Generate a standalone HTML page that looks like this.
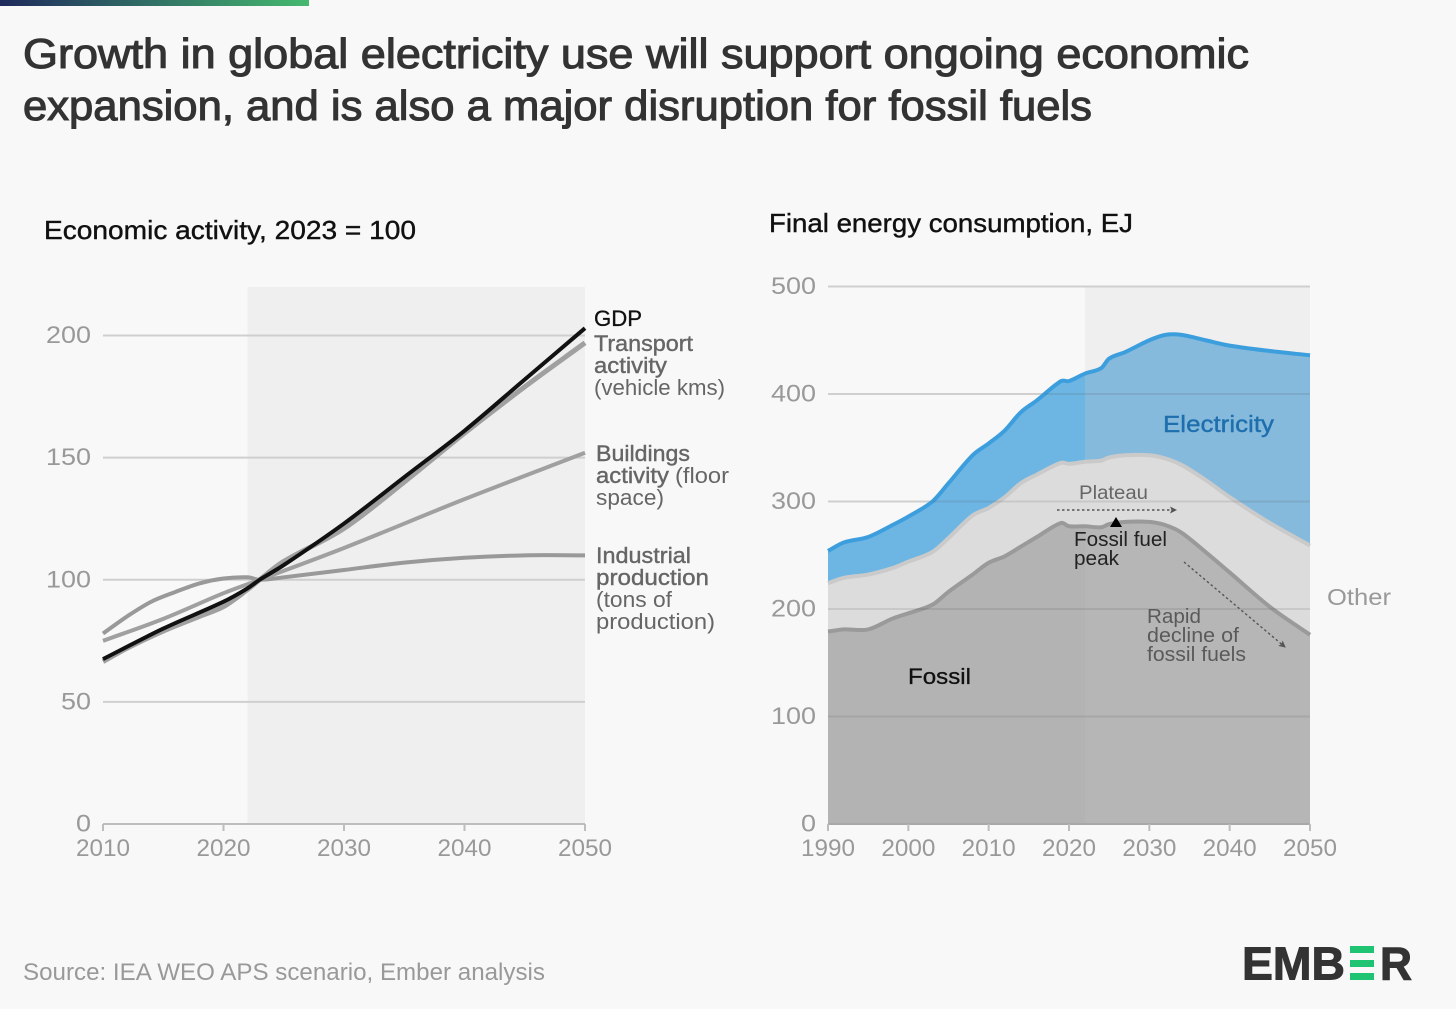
<!DOCTYPE html>
<html lang="en">
<head>
<meta charset="utf-8">
<title>Growth in global electricity use</title>
<style>
html,body{margin:0;padding:0;background:#f8f8f8;}
svg{display:block;font-family:"Liberation Sans",sans-serif;}
</style>
</head>
<body>
<svg id="root" xmlns="http://www.w3.org/2000/svg" width="1456" height="1009" viewBox="0 0 1456 1009">
<defs>
<linearGradient id="topGrad" x1="0" x2="1" y1="0" y2="0"><stop offset="0" stop-color="#1f2a5c"/><stop offset="1" stop-color="#45b96f"/></linearGradient>
<marker id="arrowHead" markerWidth="8" markerHeight="8" refX="6" refY="3.5" orient="auto" markerUnits="userSpaceOnUse"><path d="M0 0L7 3.5L0 7L1.5 3.5Z" fill="#555"/></marker>
</defs>
<rect width="1456" height="1009" fill="#f8f8f8"/>
<rect width="309" height="6" fill="url(#topGrad)"/>
<g font-size="42" fill="#333" stroke="#333" stroke-width="1.1">
<text x="23" y="68" textLength="1226" lengthAdjust="spacingAndGlyphs">Growth in global electricity use will support ongoing economic</text>
<text x="23" y="120" textLength="1069" lengthAdjust="spacingAndGlyphs">expansion, and is also a major disruption for fossil fuels</text>
</g>
<text x="44" y="239" font-size="26" fill="#111" stroke="#111" stroke-width=".4" textLength="372" lengthAdjust="spacingAndGlyphs">Economic activity, 2023 = 100</text>
<text x="769" y="232" font-size="26" fill="#111" stroke="#111" stroke-width=".4" textLength="364" lengthAdjust="spacingAndGlyphs">Final energy consumption, EJ</text>
<g id="leftChart"></g>
<g id="rightChart"></g>

<g font-size="22">
<text x="594" y="326" fill="#111" stroke="#111" stroke-width=".3" textLength="48" lengthAdjust="spacingAndGlyphs">GDP</text>
<g fill="#666">
<text x="594" y="351" stroke="#666" stroke-width=".4" textLength="99" lengthAdjust="spacingAndGlyphs">Transport</text>
<text x="594" y="373" stroke="#666" stroke-width=".4" textLength="73" lengthAdjust="spacingAndGlyphs">activity</text>
<text x="594" y="395" textLength="131" lengthAdjust="spacingAndGlyphs">(vehicle kms)</text>
</g>
<g fill="#666">
<text x="596" y="461" stroke="#666" stroke-width=".4" textLength="94" lengthAdjust="spacingAndGlyphs">Buildings</text>
<text x="596" y="483" stroke="#666" stroke-width=".4" textLength="73" lengthAdjust="spacingAndGlyphs">activity</text>
<text x="675" y="483" textLength="54" lengthAdjust="spacingAndGlyphs">(floor</text>
<text x="596" y="505" textLength="68" lengthAdjust="spacingAndGlyphs">space)</text>
</g>
<g fill="#666">
<text x="596" y="563" stroke="#666" stroke-width=".4" textLength="95" lengthAdjust="spacingAndGlyphs">Industrial</text>
<text x="596" y="585" stroke="#666" stroke-width=".4" textLength="113" lengthAdjust="spacingAndGlyphs">production</text>
<text x="596" y="607" textLength="76" lengthAdjust="spacingAndGlyphs">(tons of</text>
<text x="596" y="629" textLength="119" lengthAdjust="spacingAndGlyphs">production)</text>
</g>
</g>

<g>
<text x="1163" y="432" font-size="23" fill="#1f6fae" stroke="#1f6fae" stroke-width=".4" textLength="111" lengthAdjust="spacingAndGlyphs">Electricity</text>
<text x="1327" y="605" font-size="23" fill="#999" textLength="64" lengthAdjust="spacingAndGlyphs">Other</text>
<text x="908" y="684" font-size="22" fill="#111" stroke="#111" stroke-width=".3" textLength="63" lengthAdjust="spacingAndGlyphs">Fossil</text>
<text x="1079" y="499" font-size="19" fill="#666" textLength="69" lengthAdjust="spacingAndGlyphs">Plateau</text>
<line x1="1057" y1="510" x2="1176" y2="510" stroke="#555" stroke-width="1.4" stroke-dasharray="2.5 2.5" marker-end="url(#arrowHead)"/>
<polygon points="1116,517 1122,527 1110,527" fill="#000"/>
<g font-size="20" fill="#222">
<text x="1074" y="546" textLength="93" lengthAdjust="spacingAndGlyphs">Fossil fuel</text>
<text x="1074" y="565" textLength="45" lengthAdjust="spacingAndGlyphs">peak</text>
</g>
<line x1="1184" y1="562" x2="1285" y2="647" stroke="#555" stroke-width="1.4" stroke-dasharray="2.5 2.5" marker-end="url(#arrowHead)"/>
<g font-size="20" fill="#5a5a5a">
<text x="1147" y="623" textLength="54" lengthAdjust="spacingAndGlyphs">Rapid</text>
<text x="1147" y="642" textLength="92" lengthAdjust="spacingAndGlyphs">decline of</text>
<text x="1147" y="661" textLength="99" lengthAdjust="spacingAndGlyphs">fossil fuels</text>
</g>
</g>

<text x="23" y="980" font-size="24" fill="#999" textLength="522" lengthAdjust="spacingAndGlyphs">Source: IEA WEO APS scenario, Ember analysis</text>
<g fill="#333" stroke="#333" stroke-width="1" font-size="46" font-weight="700">
<text x="1242" y="979.5" textLength="103" lengthAdjust="spacingAndGlyphs">EMB</text>
<rect x="1350" y="946" width="24" height="7" fill="#1fc472" stroke="none"/>
<rect x="1350" y="960" width="24" height="7" fill="#1fc472" stroke="none"/>
<rect x="1350" y="973" width="24" height="7" fill="#1fc472" stroke="none"/>
<text x="1380" y="979.5" textLength="32" lengthAdjust="spacingAndGlyphs">R</text>
</g>
</svg>
<script>
// Left chart data
const gdpYears = [2010, 2015, 2020, 2022, 2023, 2025, 2030, 2035, 2040, 2045, 2050];
const gdpValues = [67.5, 80, 91, 96.5, 100, 106, 123, 142, 161, 182, 203];
const transportYears = [2010, 2012, 2015, 2018, 2020, 2022, 2023, 2025, 2030, 2035, 2040, 2045, 2050];
const transportValues = [66.5, 72, 79, 85, 89, 96, 100, 107.5, 121, 140, 160, 179, 197];
const buildingsYears = [2010, 2015, 2020, 2023, 2030, 2040, 2050];
const buildingsValues = [75, 84, 94.5, 100, 113, 133, 152];
const industrialYears = [2010, 2012, 2014, 2016, 2018, 2020, 2022, 2023, 2025, 2030, 2035, 2040, 2045, 2050];
const industrialValues = [78, 85, 91, 95, 98.5, 100.5, 101, 100, 101, 104, 107, 109, 110, 110];
const leftYTicks = [0, 50, 100, 150, 200];
const leftXTicks = [2010, 2020, 2030, 2040, 2050];
const leftProjectionStart = 2022;

// Right chart data
const energyYears = [1990, 1992, 1995, 1998, 2000, 2003, 2005, 2008, 2010, 2012, 2014, 2016, 2019, 2020, 2022, 2024, 2025, 2027, 2030, 2032, 2034, 2037, 2040, 2045, 2050];
const fossilValues = [179, 181, 181, 191, 196, 204, 216, 232, 243, 249, 258, 267, 280, 277, 277, 276, 279, 281, 281, 278, 271, 253, 234, 202, 176];
const otherTopValues = [224, 229, 232, 238, 244, 253, 266, 287, 294, 304, 317, 325, 336, 335, 337, 338, 341, 343, 343, 340, 334, 320, 304, 280, 259];
const electricityTopValues = [254, 262, 267, 278, 286, 300, 317, 343, 354, 366, 383, 394, 412, 412, 419, 424, 433, 439, 450, 455, 455, 450, 445, 440, 436];
const rightYTicks = [0, 100, 200, 300, 400, 500];
const rightXTicks = [1990, 2000, 2010, 2020, 2030, 2040, 2050];
const rightProjectionStart = 2022;

const NS = 'http://www.w3.org/2000/svg';
function el(parent, tag, attrs, text) {
  const n = document.createElementNS(NS, tag);
  for (const k in attrs) n.setAttribute(k, attrs[k]);
  if (text !== undefined) n.textContent = text;
  parent.appendChild(n);
  return n;
}
function curve(pts) {
  let d = 'M' + pts[0][0].toFixed(2) + ' ' + pts[0][1].toFixed(2);
  for (let i = 0; i < pts.length - 1; i++) {
    const p0 = pts[i - 1] || pts[i], p1 = pts[i], p2 = pts[i + 1], p3 = pts[i + 2] || p2;
    const h = p2[0] - p1[0];
    const m1 = (p2[1] - p0[1]) / (p2[0] - p0[0]);
    const m2 = (p3[1] - p1[1]) / (p3[0] - p1[0]);
    d += 'C' + (p1[0] + h / 3).toFixed(2) + ' ' + (p1[1] + m1 * h / 3).toFixed(2) + ' ' +
         (p2[0] - h / 3).toFixed(2) + ' ' + (p2[1] - m2 * h / 3).toFixed(2) + ' ' +
         p2[0].toFixed(2) + ' ' + p2[1].toFixed(2);
  }
  return d;
}
function toPts(xs, ys, xf, yf) { return xs.map((v, i) => [xf(v), yf(ys[i])]); }

// ---------- left chart ----------
const L = document.getElementById('leftChart');
const lx = v => 103 + (v - 2010) / 40 * 482;
const ly = v => 824 - v * 2.4425;
const lShade = el(L, 'rect', {x: lx(leftProjectionStart), y: 287, width: lx(2050) - lx(leftProjectionStart), height: 537, fill: '#efefef'});


leftYTicks.forEach(t => {
  if (t > 0) {
    const g = el(L, 'line', {x1: 103, x2: 585, y1: ly(t), y2: ly(t), stroke: '#cfcfcf', 'stroke-width': 2});
    
    
  }
  const lb = el(L, 'text', {x: 91, y: ly(t) + 7.5, 'text-anchor': 'end', 'font-size': 24, fill: '#999', textLength: String(t).length * 15, lengthAdjust: 'spacingAndGlyphs'}, t);
  
  
});
const lAxis = el(L, 'line', {x1: 103, x2: 585, y1: 824, y2: 824, stroke: '#bdbdbd', 'stroke-width': 2});


leftXTicks.forEach(t => {
  const m = el(L, 'line', {x1: lx(t), x2: lx(t), y1: 824, y2: 831, stroke: '#bdbdbd', 'stroke-width': 2});
  
  
  const lb = el(L, 'text', {x: lx(t) - 27, y: 856, 'font-size': 24, fill: '#999', textLength: 54, lengthAdjust: 'spacingAndGlyphs'}, t);
  
  
});
const sIndustrial = el(L, 'path', {d: curve(toPts(industrialYears, industrialValues, lx, ly)), fill: 'none', stroke: '#999', 'stroke-width': 4});


const sBuildings = el(L, 'path', {d: curve(toPts(buildingsYears, buildingsValues, lx, ly)), fill: 'none', stroke: '#a0a0a0', 'stroke-width': 4});


const sTransport = el(L, 'path', {d: curve(toPts(transportYears, transportValues, lx, ly)), fill: 'none', stroke: '#a0a0a0', 'stroke-width': 5});


const sGdp = el(L, 'path', {d: curve(toPts(gdpYears, gdpValues, lx, ly)), fill: 'none', stroke: '#111', 'stroke-width': 4});



// ---------- right chart ----------
const R = document.getElementById('rightChart');
const rx = v => 828 + (v - 1990) / 60 * 482;
const ry = v => 824 - v * 1.075;
const rShade = el(R, 'rect', {x: rx(rightProjectionStart), y: 287, width: rx(2050) - rx(rightProjectionStart), height: 537, fill: '#efefef'});


rightYTicks.forEach(t => {
  if (t > 0) {
    const g = el(R, 'line', {x1: 828, x2: 1310, y1: ry(t), y2: ry(t), stroke: '#cfcfcf', 'stroke-width': 2});
    
    
  }
  const lb = el(R, 'text', {x: 816, y: ry(t) + 7.5, 'text-anchor': 'end', 'font-size': 24, fill: '#999', textLength: String(t).length * 15, lengthAdjust: 'spacingAndGlyphs'}, t);
  
  
});
const fossilPts = toPts(energyYears, fossilValues, rx, ry);
const otherPts = toPts(energyYears, otherTopValues, rx, ry);
const elecPts = toPts(energyYears, electricityTopValues, rx, ry);
const base = ' L' + rx(2050) + ' ' + ry(0) + ' L' + rx(1990) + ' ' + ry(0) + ' Z';
const cp = el(R, 'clipPath', {id: 'areaClip'});
el(cp, 'path', {d: curve(elecPts) + base});
const cpF = el(R, 'clipPath', {id: 'fossilClip'});
el(cpF, 'path', {d: curve(fossilPts) + base});
const shadeX = rx(rightProjectionStart);
const shadeW = rx(2050) - rx(rightProjectionStart);
const aElec = el(R, 'path', {d: curve(elecPts) + base, fill: '#6db6e4'});


const overElec = el(R, 'rect', {x: shadeX, y: 287, width: shadeW, height: 537, fill: 'rgba(198,198,198,.27)', 'clip-path': 'url(#areaClip)'});


const aOther = el(R, 'path', {d: curve(otherPts) + base, fill: '#dcdcdc'});


const aFossil = el(R, 'path', {d: curve(fossilPts) + base, fill: '#b3b3b3'});


const overFossil = el(R, 'rect', {x: shadeX, y: 287, width: shadeW, height: 537, fill: 'rgba(255,255,255,.05)', 'clip-path': 'url(#fossilClip)'});


const lElec = el(R, 'path', {d: curve(elecPts), fill: 'none', stroke: '#3d9ede', 'stroke-width': 4});


const lOther = el(R, 'path', {d: curve(otherPts), fill: 'none', stroke: '#cacaca', 'stroke-width': 4});


const lFossil = el(R, 'path', {d: curve(fossilPts), fill: 'none', stroke: '#9a9a9a', 'stroke-width': 4});


const clipG = el(R, 'g', {'clip-path': 'url(#areaClip)'});


rightYTicks.filter(t => t > 0).forEach(t => {
  const g = el(clipG, 'line', {x1: 828, x2: 1310, y1: ry(t), y2: ry(t), stroke: 'rgba(80,80,80,.14)', 'stroke-width': 2});
  
  
});
const rAxis = el(R, 'line', {x1: 828, x2: 1310, y1: 824, y2: 824, stroke: '#a8a8a8', 'stroke-width': 2});


rightXTicks.forEach(t => {
  const m = el(R, 'line', {x1: rx(t), x2: rx(t), y1: 824, y2: 831, stroke: '#bdbdbd', 'stroke-width': 2});
  
  
  const lb = el(R, 'text', {x: rx(t) - 27, y: 856, 'font-size': 24, fill: '#999', textLength: 54, lengthAdjust: 'spacingAndGlyphs'}, t);
  
  
});
</script>
</body>
</html>
